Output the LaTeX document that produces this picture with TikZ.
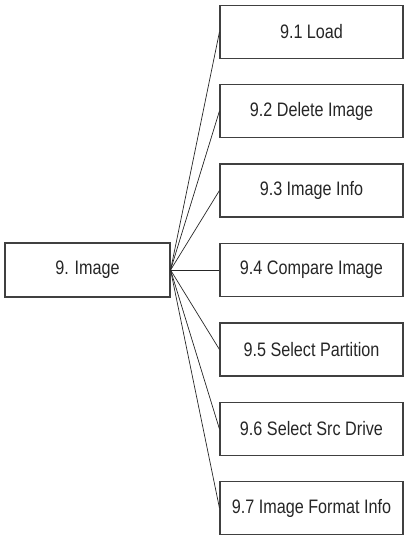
\documentclass[tikz,border=0pt]{standalone}
\usepackage{fontspec}
\setmainfont[FakeStretch=0.83]{Liberation Sans}
\begin{document}
\begin{tikzpicture}[x=1pt,y=-1pt,
  box/.style={draw=black!75, line width=1.1pt, minimum width=183pt, minimum height=53pt, inner sep=0pt, font=\fontsize{19.5}{22}\selectfont, text=black!85},
  root/.style={draw=black!75, line width=1.1pt, minimum width=165pt, minimum height=54pt, inner sep=0pt, font=\fontsize{19.5}{22}\selectfont, text=black!85},
  link/.style={draw=black!85, line width=0.7pt}]
\useasboundingbox (0,0) rectangle (404,535);
\node[root] (r) at (87.5,270) {9. Image};
\node[box] (a) at (311.5,32) {9.1 Load};
\node[box] (b) at (311.5,111) {9.2 Delete Image};
\node[box] (c) at (311.5,190.5) {9.3 Image Info};
\node[box] (d) at (311.5,270) {9.4 Compare Image};
\node[box] (e) at (311.5,349.5) {9.5 Select Partition};
\node[box] (f) at (311.5,429) {9.6 Select Src Drive};
\node[box] (g) at (311.5,508) {9.7 Image Format Info};
\foreach \n in {a,b,c,d,e,f,g} \draw[link] (r.east) -- (\n.west);
\end{tikzpicture}
\end{document}
